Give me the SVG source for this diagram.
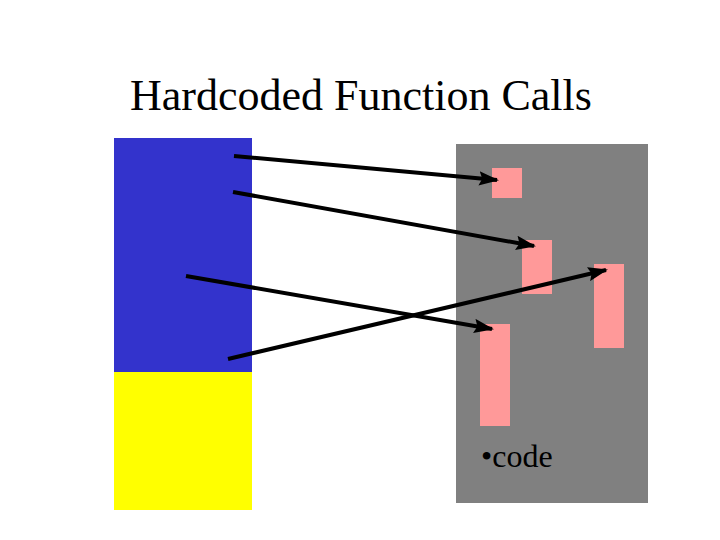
<svg xmlns="http://www.w3.org/2000/svg" width="720" height="540" viewBox="0 0 720 540">
<style>
.t{font-family:"Liberation Serif","Times New Roman",serif;fill:#000}
.c{stroke:#000;stroke-width:4;fill:none}
.p{fill:#ff9999}
</style>
<defs>
<marker id="ah" markerWidth="5" markerHeight="3.6" refX="4.5" refY="1.8" orient="auto" markerUnits="strokeWidth">
<path d="M0,0 L5,1.8 L0,3.6 L0.8,1.8 z" fill="#000"/>
</marker>
</defs>
<rect width="720" height="540" fill="#fff"/>
<text class="t" x="130" y="110" font-size="44">Hardcoded Function Calls</text>
<g id="memory">
<rect x="114" y="138" width="138" height="234" fill="#3333cc"/>
<rect x="114" y="372" width="138" height="138" fill="#ffff00"/>
</g>
<g id="library">
<rect x="456" y="144" width="192" height="359" fill="#808080"/>
<text class="t" x="481" y="467" font-size="32">•code</text>
</g>
<g id="func1"><rect class="p" x="492" y="168" width="30" height="30"/></g>
<g id="func2"><rect class="p" x="522" y="240" width="30" height="54"/></g>
<g id="func3"><rect class="p" x="594" y="264" width="30" height="84"/></g>
<g id="func4"><rect class="p" x="480" y="324" width="30" height="102"/></g>
<g id="connectors">
<line class="c" x1="234" y1="156" x2="497" y2="180" marker-end="url(#ah)"/>
<line class="c" x1="233" y1="192" x2="534" y2="246" marker-end="url(#ah)"/>
<line class="c" x1="186" y1="276" x2="492" y2="329" marker-end="url(#ah)"/>
<line class="c" x1="228" y1="359" x2="606" y2="270" marker-end="url(#ah)"/>
</g>
</svg>
